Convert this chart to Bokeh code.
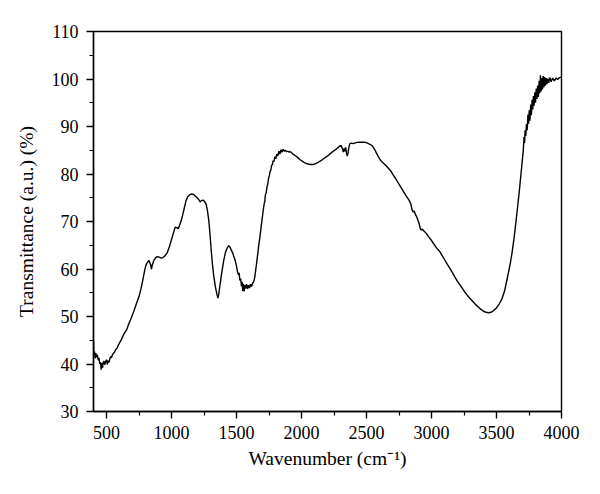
from bokeh.plotting import figure
from bokeh.models import Range1d, FixedTicker
from bokeh.embed import file_html
from bokeh.resources import INLINE

wavenumber = [400, 403, 408, 413, 418, 424, 430, 436, 442, 448, 454, 459, 464, 469, 475, 481, 487, 493,
              500, 506, 512, 518, 525, 532, 538, 545, 552, 560, 570, 582, 595, 610, 625, 640, 655, 668,
              680, 695, 710, 730, 750, 765, 778, 790, 800, 812, 826, 838, 846, 853, 864, 878, 890, 905,
              920, 935, 950, 967, 985, 1000, 1015, 1028, 1040, 1052, 1062, 1075, 1088, 1100, 1112, 1125,
              1140, 1155, 1170, 1185, 1197, 1210, 1220, 1230, 1242, 1255, 1267, 1277, 1287, 1297, 1306,
              1315, 1325, 1338, 1350, 1357, 1363, 1370, 1380, 1390, 1402, 1415, 1428, 1440, 1450, 1460,
              1470, 1480, 1490, 1500, 1508, 1515, 1520, 1526, 1532, 1538, 1543, 1548, 1553, 1558, 1564,
              1570, 1577, 1584, 1592, 1600, 1608, 1616, 1624, 1632, 1640, 1648, 1656, 1664, 1672, 1680,
              1688, 1696, 1704, 1712, 1718, 1722, 1728, 1734, 1740, 1746, 1752, 1758, 1764, 1770, 1776,
              1782, 1788, 1795, 1802, 1810, 1818, 1826, 1834, 1842, 1850, 1858, 1866, 1875, 1885, 1895,
              1905, 1915, 1930, 1950, 1970, 1990, 2010, 2030, 2050, 2070, 2090, 2110, 2130, 2150, 2170,
              2190, 2210, 2230, 2250, 2270, 2290, 2305, 2315, 2322, 2328, 2334, 2340, 2347, 2352, 2358,
              2364, 2372, 2385, 2400, 2420, 2440, 2460, 2480, 2500, 2515, 2530, 2545, 2560, 2575, 2590,
              2605, 2625, 2645, 2665, 2685, 2705, 2725, 2745, 2765, 2785, 2805, 2825, 2840, 2850, 2858,
              2866, 2876, 2886, 2896, 2906, 2914, 2922, 2930, 2942, 2960, 2980, 3000, 3020, 3040, 3060,
              3080, 3100, 3120, 3140, 3160, 3180, 3200, 3220, 3240, 3260, 3280, 3300, 3320, 3340, 3360,
              3380, 3400, 3420, 3440, 3460, 3480, 3500, 3520, 3540, 3560, 3575, 3590, 3605, 3620, 3635,
              3650, 3662, 3672, 3682, 3692, 3700, 3706, 3712, 3716, 3720, 3725, 3730, 3736, 3742, 3747,
              3752, 3757, 3763, 3768, 3774, 3779, 3784, 3789, 3795, 3800, 3806, 3811, 3817, 3822, 3828,
              3833, 3838, 3843, 3848, 3853, 3859, 3864, 3870, 3876, 3882, 3888, 3895, 3902, 3910, 3920,
              3932, 3945, 3958, 3970, 3985, 4000]

transmittance = [45.0, 42.0, 42.6, 41.2, 42.3, 41.4, 41.9, 40.8, 41.3, 40.0, 40.4, 38.8, 40.2, 39.2, 40.3, 40.6, 39.8, 40.5,
                 40.9, 39.9, 40.7, 40.3, 41.0, 41.6, 41.3, 41.9, 42.2, 42.4, 43.0, 43.4, 44.2, 44.9, 45.8, 46.6, 47.2, 48.2,
                 49.0, 50.0, 51.1, 52.7, 54.2, 55.8, 57.5, 59.2, 60.5, 61.3, 61.8, 61.0, 60.0, 60.9, 61.8, 62.4, 62.6, 62.5,
                 62.3, 62.4, 62.8, 63.4, 64.8, 66.2, 67.6, 68.8, 68.7, 68.5, 69.2, 70.2, 71.6, 73.0, 74.4, 75.2,
                 75.6, 75.8, 75.7, 75.3, 75.0, 74.6, 74.1, 74.4, 74.5, 74.2, 73.6, 72.2, 70.2, 67.0, 63.8,
                 61.0, 58.5, 56.2, 54.6, 53.9, 54.6, 56.0, 58.0, 59.8, 61.8, 63.5, 64.4, 64.9, 64.6, 64.0,
                 63.4, 62.6, 61.8, 60.6, 59.4, 58.8, 59.2, 57.6, 58.0, 56.4, 57.3, 55.4, 56.9, 55.3, 56.6,
                 55.9, 56.8, 55.8, 56.6, 56.0, 56.8, 56.3, 57.0, 57.3, 58.2, 59.8, 61.5, 63.3, 65.2, 66.7,
                 68.5, 70.3, 72.0, 73.6, 74.3, 75.6, 76.0, 77.2, 77.8, 79.0, 79.6, 80.5, 80.8, 81.8, 82.0,
                 82.8, 82.6, 83.6, 83.2, 84.2, 83.8, 84.8, 84.2, 85.1, 84.6, 85.2, 84.8, 85.0, 84.7, 84.8,
                 84.6, 84.7, 84.3, 83.9, 83.5, 83.0, 82.6, 82.3, 82.1, 82.0, 82.0, 82.2, 82.5, 82.8, 83.2,
                 83.6, 84.0, 84.5, 84.9, 85.3, 85.8, 86.0, 85.3, 84.6, 85.4, 84.8, 85.6, 84.2, 83.8, 84.4,
                 85.6, 86.4, 86.5, 86.4, 86.6, 86.7, 86.7, 86.7, 86.6, 86.4, 86.2, 85.9, 85.3, 84.5, 83.7,
                 83.0, 82.4, 81.9, 81.3, 80.7, 79.8, 79.0, 78.1, 77.2, 76.3, 75.4, 74.6, 73.8, 72.5, 72.0,
                 72.2, 71.5, 71.0, 70.2, 69.5, 68.4, 68.2, 68.4, 68.0, 67.5, 66.7, 66.0, 65.2, 64.4, 63.8,
                 62.9, 62.0, 61.1, 60.2, 59.3, 58.3, 57.4, 56.6, 55.8, 55.0, 54.3, 53.7, 53.1, 52.5, 52.0,
                 51.5, 51.1, 50.9, 50.8, 50.9, 51.3, 51.8, 52.6, 53.6, 55.2, 57.0, 59.0, 61.0, 63.5, 66.5,
                 70.0, 73.0, 75.5, 78.2, 81.0, 83.3, 85.0, 87.8, 86.5, 89.2, 88.0, 90.5, 89.2, 92.5, 90.6,
                 93.4, 91.2, 94.6, 92.4, 95.6, 93.6, 96.4, 94.4, 97.2, 95.0, 98.0, 95.8, 98.6, 96.2, 99.6,
                 97.0, 100.8, 97.4, 100.2, 97.8, 100.6, 98.2, 100.4, 98.6, 100.2, 98.9, 100.1, 99.2, 100.3, 99.4,
                 100.2, 99.6, 100.2, 99.9, 100.3, 100.4]

x_major = [500, 1000, 1500, 2000, 2500, 3000, 3500, 4000]
x_minor = [750, 1250, 1750, 2250, 2750, 3250, 3750]
y_major = [30, 40, 50, 60, 70, 80, 90, 100, 110]
y_minor = [35, 45, 55, 65, 75, 85, 95, 105]

FONT = "Liberation Serif"

p = figure(width=592, height=486, output_backend="svg", toolbar_location=None,
           x_range=Range1d(400, 4000), y_range=Range1d(30, 110),
           min_border_left=93, min_border_right=31, min_border_top=31, min_border_bottom=75)

p.line(wavenumber, transmittance, line_color="black", line_width=1.4)

p.grid.visible = False
p.outline_line_color = "black"
p.outline_line_width = 1.4
p.background_fill_color = "white"
p.border_fill_color = "white"

p.xaxis.ticker = FixedTicker(ticks=x_major, minor_ticks=x_minor)
p.yaxis.ticker = FixedTicker(ticks=y_major, minor_ticks=y_minor)
p.xaxis.axis_label = "Wavenumber (cm\u207b\u00b9)"
p.yaxis.axis_label = "Transmittance (a.u.) (%)"

for ax in (p.xaxis, p.yaxis):
    ax.axis_line_color = "black"
    ax.axis_line_width = 1.4
    ax.major_tick_line_color = "black"
    ax.major_tick_line_width = 1.4
    ax.minor_tick_line_color = "black"
    ax.minor_tick_line_width = 1.2
    ax.major_tick_in = 0
    ax.major_tick_out = 7
    ax.minor_tick_in = 0
    ax.minor_tick_out = 4
    ax.major_label_text_font = FONT
    ax.major_label_text_font_size = "18px"
    ax.major_label_text_color = "black"
    ax.axis_label_text_font = FONT
    ax.axis_label_text_font_size = "19.5px"
    ax.axis_label_text_font_style = "normal"
    ax.axis_label_text_color = "black"

p.xaxis.major_label_standoff = 7
p.xaxis.axis_label_standoff = 6
p.yaxis.major_label_standoff = 8
p.yaxis.axis_label_standoff = 12

open("out.html", "w").write(file_html(p, INLINE))
